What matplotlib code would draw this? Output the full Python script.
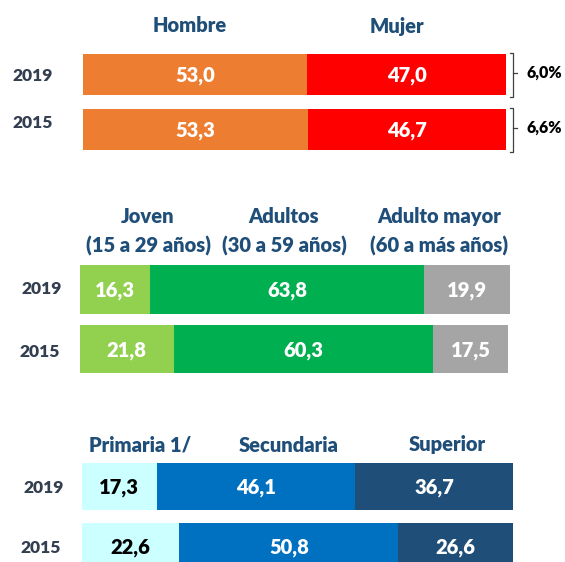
import matplotlib
matplotlib.use("Agg")
import matplotlib.pyplot as plt

plt.rcParams['font.family'] = ['Lato', 'DejaVu Sans']
plt.rcParams['font.weight'] = 'heavy'

W, H = 565, 562

years = ['2019', '2015']

sexo_cats = ['Hombre', 'Mujer']
sexo_vals = [[53.0, 47.0], [53.3, 46.7]]
sexo_cols = ['#ED7D31', '#FF0000']
sexo_brecha = ['6,0%', '6,6%']

edad_cats = [['Joven', '(15 a 29 años)'], ['Adultos', '(30 a 59 años)'],
             ['Adulto mayor', '(60 a más años)']]
edad_vals = [[16.3, 63.8, 19.9], [21.8, 60.3, 17.5]]
edad_cols = ['#92D050', '#00B050', '#A5A5A5']

educ_cats = ['Primaria 1/', 'Secundaria', 'Superior']
educ_vals = [[17.3, 46.1, 36.7], [22.6, 50.8, 26.6]]
educ_cols = ['#CCFFFF', '#0070C0', '#1F4E79']
educ_txt = ['black', 'white', 'white']

HEAD = '#1F4E79'
YEARC = '#333F50'


def fx(x):
    return x / W


def fy(y):
    return 1 - y / H


fig = plt.figure(figsize=(W / 100, H / 100), dpi=100)


def panel(left, width, top, step, barh, vals, cols, txtcols):
    # axes in pixel box, two rows centred on top+step/2 and top+3*step/2
    ax = fig.add_axes([fx(left), fy(top + 2 * step), width / W, 2 * step / H])
    ax.set_xlim(0, 100)
    ax.set_ylim(1.5, -0.5)
    ax.axis('off')
    for i, row in enumerate(vals):
        start = 0
        for j, v in enumerate(row):
            ax.barh(i, v, left=start, height=barh, color=cols[j], clip_on=False)
            ax.text(start + v / 2, i + 0.02, f'{v:.1f}'.replace('.', ','),
                    ha='center', va='center', fontsize=14.5, color=txtcols[j])
            start += v
    return ax


# --- sexo ---
ax1 = panel(83, 423, 47, 55, 0.745, sexo_vals, sexo_cols, ['white', 'white'])
for i, lab in enumerate(sexo_brecha):
    y0, y1 = i - 0.4, i + 0.4
    ax1.plot([100.9, 101.7, 101.7, 100.9], [y0, y0, y1, y1], color='#404040',
             lw=0.9, clip_on=False)
    ax1.plot([101.7, 102.5], [i - 0.02, i - 0.02], color='#404040', lw=0.9, clip_on=False)
    ax1.text(104.8, i - 0.03, lab, ha='left', va='center', fontsize=11.5, color='black')

for x, lab in zip([190, 397], sexo_cats):
    fig.text(fx(x), fy(26), lab, ha='center', va='center', fontsize=14.5, color=HEAD)
for (x, y), lab in zip([(32.5, 76), (32.5, 123)], years):
    fig.text(fx(x), fy(y), lab, ha='center', va='center', fontsize=12.5, color=YEARC)

# --- edad ---
panel(80, 430, 259.75, 59.5, 0.815, edad_vals, edad_cols, ['white'] * 3)
for x, (l1, l2) in zip([148, 284, 439], edad_cats):
    fig.text(fx(x), fy(217), l1, ha='center', va='center', fontsize=14.5, color=HEAD)
    fig.text(fx(x), fy(246), l2, ha='center', va='center', fontsize=14.5, color=HEAD)
for (x, y), lab in zip([(42, 289), (39.5, 352)], years):
    fig.text(fx(x), fy(y), lab, ha='center', va='center', fontsize=12.5, color=YEARC)

# --- educacion ---
panel(82, 431, 456.5, 60, 0.78, educ_vals, educ_cols, educ_txt)
for x, lab in zip([140, 289, 447], educ_cats):
    fig.text(fx(x), fy(445), lab, ha='center', va='center', fontsize=14.5, color=HEAD)
for (x, y), lab in zip([(43.5, 488), (40.5, 548)], years):
    fig.text(fx(x), fy(y), lab, ha='center', va='center', fontsize=12.5, color=YEARC)

fig.savefig('out.png', dpi=100, facecolor='white')
